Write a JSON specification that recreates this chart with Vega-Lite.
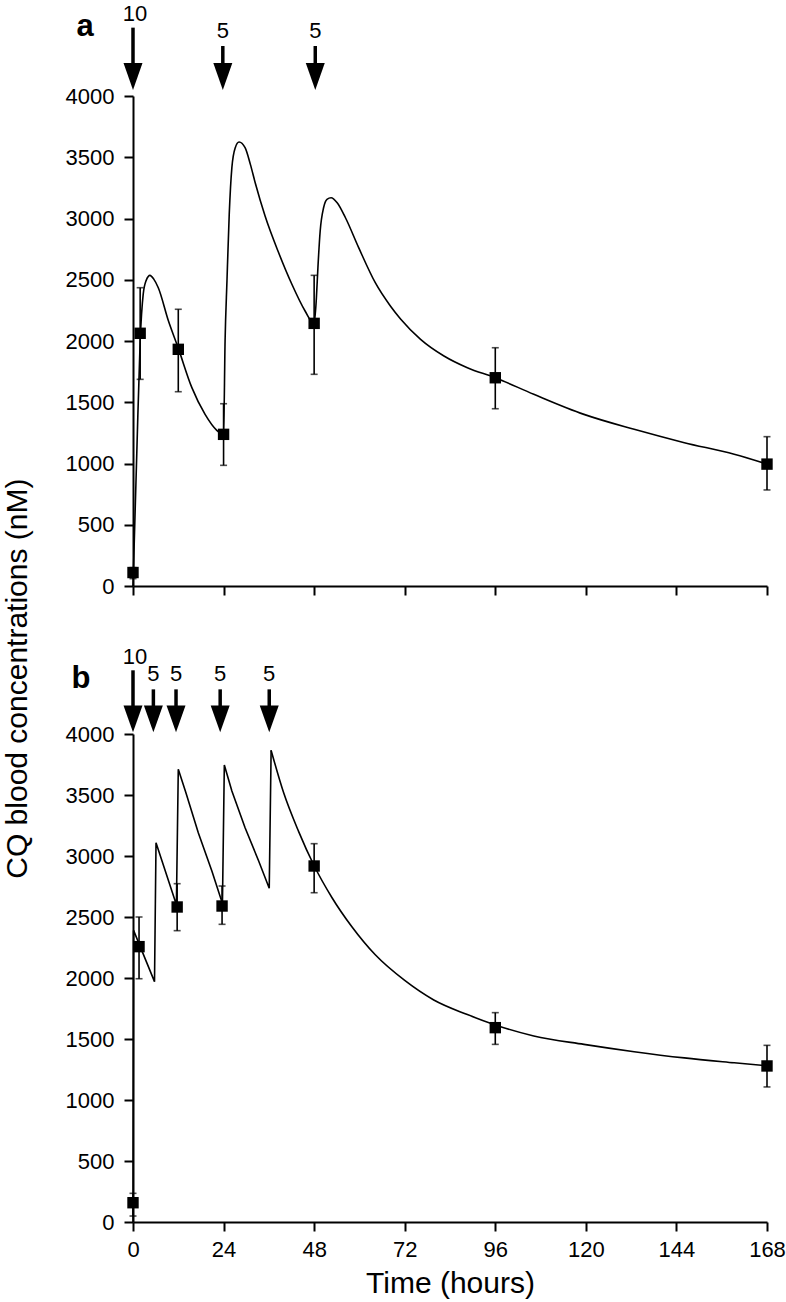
{
  "$schema": "https://vega.github.io/schema/vega-lite/v6.json",
  "background": "white",
  "padding": {"left": 3, "top": 3, "right": 0, "bottom": 2},
  "title": {"text": "CQ blood concentrations (nM)", "orient": "left", "anchor": "middle", "fontSize": 30, "fontWeight": "normal", "font": "Liberation Sans", "color": "#000", "offset": 32, "dx": -28},
  "config": {
    "font": "Liberation Sans",
    "view": {"stroke": null},
    "axis": {"grid": false, "domainColor": "#000", "domainWidth": 2, "tickColor": "#000", "tickWidth": 2, "tickSize": 9, "labelColor": "#000", "labelFontSize": 22, "labelFont": "Liberation Sans", "labelFlush": false, "labelOverlap": false, "titleColor": "#000", "titleFont": "Liberation Sans", "titleFontSize": 30, "titleFontWeight": "normal"},
    "axisY": {"labelPadding": 10},
    "axisX": {"labelPadding": 8, "titlePadding": 8}
  },
  "datasets": {
    "curveA": [
      {"t":0,"v":0},{"t":1.0,"v":1080},{"t":1.9,"v":2000},{"t":2.7,"v":2381},{"t":3.5,"v":2495},{"t":4.5,"v":2536},{"t":5.5,"v":2505},{"t":6.7,"v":2435},{"t":9.4,"v":2163},{"t":11.9,"v":1950},{"t":15.6,"v":1619},{"t":19.1,"v":1401},{"t":22.2,"v":1271},{"t":24.0,"v":1236},{"t":24.4,"v":2000},{"t":24.9,"v":2490},{"t":25.5,"v":3034},{"t":26.2,"v":3415},{"t":27.1,"v":3578},{"t":28.1,"v":3624},{"t":29.7,"v":3578},{"t":31.1,"v":3442},{"t":32.4,"v":3290},{"t":35.0,"v":3020},{"t":38.6,"v":2720},{"t":42.1,"v":2463},{"t":45.6,"v":2245},{"t":48.0,"v":2140},{"t":48.6,"v":2354},{"t":49.0,"v":2599},{"t":49.6,"v":2898},{"t":50.5,"v":3088},{"t":51.4,"v":3157},{"t":52.5,"v":3170},{"t":54.1,"v":3129},{"t":56.3,"v":3006},{"t":59.8,"v":2762},{"t":64.2,"v":2476},{"t":68.2,"v":2286},{"t":70.9,"v":2180},{"t":76.2,"v":2014},{"t":82.4,"v":1878},{"t":88.6,"v":1782},{"t":96,"v":1700},{"t":106.2,"v":1565},{"t":119.5,"v":1401},{"t":132.8,"v":1279},{"t":146.1,"v":1170},{"t":159.3,"v":1075},{"t":168,"v":995}
    ],
    "ptsA": [
      {"t":0,"v":110,"lo":60,"hi":150},{"t":1.9,"v":2063,"lo":1687,"hi":2435},{"t":12,"v":1932,"lo":1586,"hi":2259},{"t":24,"v":1238,"lo":985,"hi":1488},{"t":48,"v":2144,"lo":1728,"hi":2536},{"t":96,"v":1700,"lo":1447,"hi":1945},{"t":168,"v":995,"lo":784,"hi":1219}
    ],
    "doseA": [{"t":0,"dose":"10"},{"t":23.8,"dose":"5"},{"t":48.3,"dose":"5"}],
    "curveB": [
      {"t":0,"v":0},{"t":0.15,"v":2390},{"t":5.7,"v":1970},{"t":6.1,"v":3109},{"t":11.5,"v":2600},{"t":12.0,"v":3711},{"t":14.0,"v":3520},{"t":17.3,"v":3190},{"t":20.9,"v":2877},{"t":23.7,"v":2610},{"t":24.2,"v":3746},{"t":26.2,"v":3533},{"t":29.7,"v":3232},{"t":33.3,"v":2959},{"t":36.1,"v":2735},{"t":36.6,"v":3866},{"t":39.9,"v":3520},{"t":43.9,"v":3200},{"t":48,"v":2920},{"t":52.7,"v":2660},{"t":58,"v":2420},{"t":64.2,"v":2190},{"t":72,"v":1980},{"t":79.7,"v":1820},{"t":88.6,"v":1700},{"t":96,"v":1615},{"t":106.2,"v":1525},{"t":119.5,"v":1456},{"t":132.8,"v":1396},{"t":146.1,"v":1345},{"t":159.3,"v":1305},{"t":168,"v":1280}
    ],
    "ptsB": [
      {"t":0,"v":158,"lo":49,"hi":235},{"t":1.6,"v":2257,"lo":1994,"hi":2500},{"t":11.7,"v":2582,"lo":2388,"hi":2773},{"t":23.6,"v":2590,"lo":2440,"hi":2754},{"t":48,"v":2918,"lo":2699,"hi":3101},{"t":96,"v":1593,"lo":1456,"hi":1716},{"t":168,"v":1279,"lo":1107,"hi":1448}
    ],
    "doseB": [{"t":0,"dose":"10"},{"t":5.4,"dose":"5"},{"t":11.4,"dose":"5"},{"t":23.1,"dose":"5"},{"t":36.1,"dose":"5"}]
  },
  "bounds": "flush",
  "spacing": 148,
  "vconcat": [
    {
      "width": 634,
      "height": 490,
      "layer": [
        {"data": {"name": "curveA"}, "mark": {"type": "line", "color": "#000", "strokeWidth": 1.6, "interpolate": "monotone", "clip": false},
         "encoding": {
           "x": {"field": "t", "type": "quantitative", "scale": {"domain": [0, 168], "nice": false, "zero": false}, "axis": {"values": [0,24,48,72,96,120,144,168], "labels": false, "title": null}},
           "y": {"field": "v", "type": "quantitative", "scale": {"domain": [0, 4000], "nice": false}, "axis": {"values": [0,500,1000,1500,2000,2500,3000,3500,4000], "format": "d", "title": null}}
         }},
        {"data": {"name": "ptsA"}, "mark": {"type": "rule", "color": "#000", "strokeWidth": 1.6, "clip": false},
         "encoding": {
           "x": {"field": "t", "type": "quantitative", "scale": {"domain": [0, 168], "nice": false, "zero": false}},
           "y": {"field": "lo", "type": "quantitative", "scale": {"domain": [0, 4000], "nice": false}},
           "y2": {"field": "hi"}
         }},
        {"data": {"name": "ptsA"}, "mark": {"type": "tick", "orient": "horizontal", "color": "#000", "thickness": 1.6, "size": 7, "clip": false},
         "encoding": {
           "x": {"field": "t", "type": "quantitative", "scale": {"domain": [0, 168], "nice": false, "zero": false}},
           "y": {"field": "lo", "type": "quantitative", "scale": {"domain": [0, 4000], "nice": false}}
         }},
        {"data": {"name": "ptsA"}, "mark": {"type": "tick", "orient": "horizontal", "color": "#000", "thickness": 1.6, "size": 7, "clip": false},
         "encoding": {
           "x": {"field": "t", "type": "quantitative", "scale": {"domain": [0, 168], "nice": false, "zero": false}},
           "y": {"field": "hi", "type": "quantitative", "scale": {"domain": [0, 4000], "nice": false}}
         }},
        {"data": {"name": "ptsA"}, "mark": {"type": "point", "shape": "square", "filled": true, "color": "#000", "opacity": 1, "size": 130, "clip": false},
         "encoding": {
           "x": {"field": "t", "type": "quantitative", "scale": {"domain": [0, 168], "nice": false, "zero": false}},
           "y": {"field": "v", "type": "quantitative", "scale": {"domain": [0, 4000], "nice": false}}
         }},
        {"data": {"name": "doseA"}, "transform": [{"filter": "datum.dose == '10'"}], "mark": {"type": "rule", "color": "#000", "strokeWidth": 3.5, "clip": false},
         "encoding": {
           "x": {"field": "t", "type": "quantitative", "scale": {"domain": [0, 168], "nice": false, "zero": false}},
           "y": {"datum": 4250, "type": "quantitative", "scale": {"domain": [0, 4000], "nice": false}},
           "y2": {"datum": 4558}
         }},
        {"data": {"name": "doseA"}, "transform": [{"filter": "datum.dose == '5'"}], "mark": {"type": "rule", "color": "#000", "strokeWidth": 3.5, "clip": false},
         "encoding": {
           "x": {"field": "t", "type": "quantitative", "scale": {"domain": [0, 168], "nice": false, "zero": false}},
           "y": {"datum": 4250, "type": "quantitative", "scale": {"domain": [0, 4000], "nice": false}},
           "y2": {"datum": 4408}
         }},
        {"data": {"name": "doseA"}, "mark": {"type": "point", "shape": "M-1,-1.42L1,-1.42L0,1.42Z", "filled": true, "color": "#000", "opacity": 1, "strokeWidth": 0, "size": 361, "clip": false},
         "encoding": {
           "x": {"field": "t", "type": "quantitative", "scale": {"domain": [0, 168], "nice": false, "zero": false}},
           "y": {"datum": 4159, "type": "quantitative", "scale": {"domain": [0, 4000], "nice": false}}
         }},
        {"data": {"name": "doseA"}, "transform": [{"filter": "datum.dose == '10'"}], "mark": {"type": "text", "fontSize": 22, "color": "#000", "baseline": "middle", "align": "center", "dx": 2, "clip": false},
         "encoding": {
           "x": {"field": "t", "type": "quantitative", "scale": {"domain": [0, 168], "nice": false, "zero": false}},
           "y": {"datum": 4667, "type": "quantitative", "scale": {"domain": [0, 4000], "nice": false}},
           "text": {"field": "dose"}
         }},
        {"data": {"name": "doseA"}, "transform": [{"filter": "datum.dose == '5'"}], "mark": {"type": "text", "fontSize": 22, "color": "#000", "baseline": "middle", "align": "center", "clip": false},
         "encoding": {
           "x": {"field": "t", "type": "quantitative", "scale": {"domain": [0, 168], "nice": false, "zero": false}},
           "y": {"datum": 4531, "type": "quantitative", "scale": {"domain": [0, 4000], "nice": false}},
           "text": {"field": "dose"}
         }},
        {"data": {"values": [{"panel": "a"}]}, "mark": {"type": "text", "fontSize": 31, "fontWeight": "bold", "color": "#000", "baseline": "alphabetic", "align": "center", "clip": false},
         "encoding": {
           "x": {"datum": -12.7, "type": "quantitative", "scale": {"domain": [0, 168], "nice": false, "zero": false}},
           "y": {"datum": 4490, "type": "quantitative", "scale": {"domain": [0, 4000], "nice": false}},
           "text": {"field": "panel"}
         }}
      ]
    },
    {
      "width": 634,
      "height": 488,
      "layer": [
        {"data": {"name": "curveB"}, "transform": [{"filter": "datum.t <= 36.6"}], "mark": {"type": "line", "color": "#000", "strokeWidth": 1.6, "interpolate": "linear", "clip": false},
         "encoding": {
           "x": {"field": "t", "type": "quantitative", "scale": {"domain": [0, 168], "nice": false, "zero": false}, "axis": {"values": [0,24,48,72,96,120,144,168], "title": "Time (hours)"}},
           "y": {"field": "v", "type": "quantitative", "scale": {"domain": [0, 4000], "nice": false}, "axis": {"values": [0,500,1000,1500,2000,2500,3000,3500,4000], "format": "d", "title": null}}
         }},
        {"data": {"name": "curveB"}, "transform": [{"filter": "datum.t >= 36.6"}], "mark": {"type": "line", "color": "#000", "strokeWidth": 1.6, "interpolate": "monotone", "clip": false},
         "encoding": {
           "x": {"field": "t", "type": "quantitative", "scale": {"domain": [0, 168], "nice": false, "zero": false}},
           "y": {"field": "v", "type": "quantitative", "scale": {"domain": [0, 4000], "nice": false}}
         }},
        {"data": {"name": "ptsB"}, "mark": {"type": "rule", "color": "#000", "strokeWidth": 1.6, "clip": false},
         "encoding": {
           "x": {"field": "t", "type": "quantitative", "scale": {"domain": [0, 168], "nice": false, "zero": false}},
           "y": {"field": "lo", "type": "quantitative", "scale": {"domain": [0, 4000], "nice": false}},
           "y2": {"field": "hi"}
         }},
        {"data": {"name": "ptsB"}, "mark": {"type": "tick", "orient": "horizontal", "color": "#000", "thickness": 1.6, "size": 7, "clip": false},
         "encoding": {
           "x": {"field": "t", "type": "quantitative", "scale": {"domain": [0, 168], "nice": false, "zero": false}},
           "y": {"field": "lo", "type": "quantitative", "scale": {"domain": [0, 4000], "nice": false}}
         }},
        {"data": {"name": "ptsB"}, "mark": {"type": "tick", "orient": "horizontal", "color": "#000", "thickness": 1.6, "size": 7, "clip": false},
         "encoding": {
           "x": {"field": "t", "type": "quantitative", "scale": {"domain": [0, 168], "nice": false, "zero": false}},
           "y": {"field": "hi", "type": "quantitative", "scale": {"domain": [0, 4000], "nice": false}}
         }},
        {"data": {"name": "ptsB"}, "mark": {"type": "point", "shape": "square", "filled": true, "color": "#000", "opacity": 1, "size": 130, "clip": false},
         "encoding": {
           "x": {"field": "t", "type": "quantitative", "scale": {"domain": [0, 168], "nice": false, "zero": false}},
           "y": {"field": "v", "type": "quantitative", "scale": {"domain": [0, 4000], "nice": false}}
         }},
        {"data": {"name": "doseB"}, "transform": [{"filter": "datum.dose == '10'"}], "mark": {"type": "rule", "color": "#000", "strokeWidth": 3.5, "clip": false},
         "encoding": {
           "x": {"field": "t", "type": "quantitative", "scale": {"domain": [0, 168], "nice": false, "zero": false}},
           "y": {"datum": 4210, "type": "quantitative", "scale": {"domain": [0, 4000], "nice": false}},
           "y2": {"datum": 4522}
         }},
        {"data": {"name": "doseB"}, "transform": [{"filter": "datum.dose == '5'"}], "mark": {"type": "rule", "color": "#000", "strokeWidth": 3.5, "clip": false},
         "encoding": {
           "x": {"field": "t", "type": "quantitative", "scale": {"domain": [0, 168], "nice": false, "zero": false}},
           "y": {"datum": 4210, "type": "quantitative", "scale": {"domain": [0, 4000], "nice": false}},
           "y2": {"datum": 4366}
         }},
        {"data": {"name": "doseB"}, "mark": {"type": "point", "shape": "M-1,-1.42L1,-1.42L0,1.42Z", "filled": true, "color": "#000", "opacity": 1, "strokeWidth": 0, "size": 361, "clip": false},
         "encoding": {
           "x": {"field": "t", "type": "quantitative", "scale": {"domain": [0, 168], "nice": false, "zero": false}},
           "y": {"datum": 4124, "type": "quantitative", "scale": {"domain": [0, 4000], "nice": false}}
         }},
        {"data": {"name": "doseB"}, "transform": [{"filter": "datum.dose == '10'"}], "mark": {"type": "text", "fontSize": 22, "color": "#000", "baseline": "middle", "align": "center", "dx": 2, "clip": false},
         "encoding": {
           "x": {"field": "t", "type": "quantitative", "scale": {"domain": [0, 168], "nice": false, "zero": false}},
           "y": {"datum": 4633, "type": "quantitative", "scale": {"domain": [0, 4000], "nice": false}},
           "text": {"field": "dose"}
         }},
        {"data": {"name": "doseB"}, "transform": [{"filter": "datum.dose == '5'"}], "mark": {"type": "text", "fontSize": 22, "color": "#000", "baseline": "middle", "align": "center", "clip": false},
         "encoding": {
           "x": {"field": "t", "type": "quantitative", "scale": {"domain": [0, 168], "nice": false, "zero": false}},
           "y": {"datum": 4494, "type": "quantitative", "scale": {"domain": [0, 4000], "nice": false}},
           "text": {"field": "dose"}
         }},
        {"data": {"values": [{"panel": "b"}]}, "mark": {"type": "text", "fontSize": 31, "fontWeight": "bold", "color": "#000", "baseline": "alphabetic", "align": "center", "clip": false},
         "encoding": {
           "x": {"datum": -13.8, "type": "quantitative", "scale": {"domain": [0, 168], "nice": false, "zero": false}},
           "y": {"datum": 4380, "type": "quantitative", "scale": {"domain": [0, 4000], "nice": false}},
           "text": {"field": "panel"}
         }}
      ]
    }
  ]
}
